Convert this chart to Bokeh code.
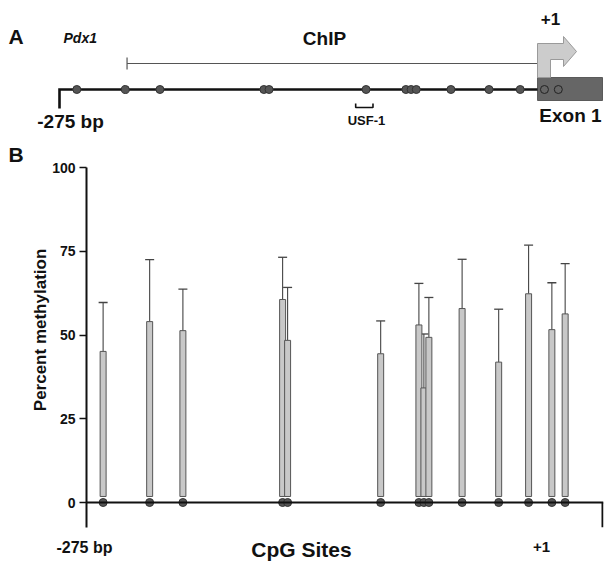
from bokeh.plotting import figure
from bokeh.models import (Range1d, Label, Span, Whisker, TeeHead, ColumnDataSource,
                          FixedTicker, LinearAxis, Title)
from bokeh.embed import file_html
from bokeh.resources import INLINE

# ---------------- data ----------------
cpg_bp = [-265, -237, -217, -157, -154, -98, -75, -72, -69, -49, -27, -9, 5, 13]
methylation = [45.1, 54.0, 51.3, 60.6, 48.4, 44.4, 53.0, 34.2, 49.3, 57.9, 41.9, 62.3, 51.6, 56.3]
sd = [14.6, 18.5, 12.4, 12.6, 15.8, 9.8, 12.4, 16.1, 11.9, 14.7, 15.8, 14.5, 14.0, 15.0]
y_ticks = [0, 25, 50, 75, 100]
chip_start_bp = -236
usf1_bp = [-104, -94]
tss_bp = 1

FONT = "Liberation Sans"
W = 605

# ---------------- panel A (schematic) ----------------
A_SCALE = 1.732          # px per bp in panel A
def a_bp(px):            # page px -> bp for panel A
    return -275 + (px - 59) / A_SCALE

A_H = 134
pa = figure(width=W, height=A_H, x_range=Range1d(a_bp(0), a_bp(W)),
            y_range=Range1d(A_H, 0), output_backend="svg", toolbar_location=None,
            min_border=0, x_axis_location=None, y_axis_location=None)
pa.grid.visible = False
pa.outline_line_color = None

# ChIP region
pa.segment(x0=[chip_start_bp], y0=[63], x1=[tss_bp], y1=[63], line_color="#555555", line_width=1)
pa.segment(x0=[chip_start_bp], y0=[57], x1=[chip_start_bp], y1=[69], line_color="#555555", line_width=1.2)

# exon box
pa.quad(left=[tss_bp], right=[a_bp(602)], top=[77], bottom=[100], fill_color="#666666", line_color="#5a5a5a")

# TSS arrow
arrow_px = [(537, 77), (537, 43), (563, 43), (563, 36), (576, 51), (563, 66), (563, 59), (550, 59), (550, 77)]
pa.patch(x=[a_bp(p[0]) for p in arrow_px], y=[p[1] for p in arrow_px],
         fill_color="#cccccc", line_color="#9a9a9a", line_width=1)

# promoter line
pa.line(x=[-275, -275, tss_bp], y=[108, 89, 89], line_color="#111111", line_width=2.6, line_join="miter")

# CpG sites
fills = ["#555555" if b < tss_bp else "#666666" for b in cpg_bp]
lines = ["#333333" if b < tss_bp else "#222222" for b in cpg_bp]
pa.scatter(x=cpg_bp, y=[89] * len(cpg_bp), size=8, fill_color=fills, line_color=lines, line_width=1)

# USF-1 bracket
pa.line(x=[usf1_bp[0], usf1_bp[0], usf1_bp[1], usf1_bp[1]], y=[103, 107, 107, 103],
        line_color="#111111", line_width=1.6)

def alabel(text, px, py, size, align="center", style="bold"):
    pa.add_layout(Label(x=a_bp(px), y=py, text=text, text_font=FONT, text_font_size=f"{size}px",
                        text_font_style=style, text_align=align, text_baseline="middle",
                        text_color="#111111"))

alabel("A", 8, 36, 21, align="left")
alabel("Pdx1", 63, 37, 14, align="left", style="bold italic")
alabel("ChIP", 324, 38, 19)
alabel("+1", 550, 18, 17)
alabel("-275 bp", 70, 121, 19)
alabel("USF-1", 366, 120, 13)
alabel("Exon 1", 570, 115, 19)

# ---------------- panel B (bar chart) ----------------
B_SCALE = 1.662          # px per bp
Y_SCALE = 3.35           # px per percent
def bx(px):
    return -275 + (px - 86) / B_SCALE
def by(py):
    return (502 - py) / Y_SCALE

B_TOP = A_H
B_FRAME_TOP = 165
B_BOTTOM = 537
x_end = bx(602)
pb = figure(width=W, height=B_BOTTOM - B_TOP, x_range=Range1d(-275, bx(603)),
            y_range=Range1d(by(527), by(B_FRAME_TOP)), output_backend="svg", toolbar_location=None,
            min_border_left=86, min_border_right=2, min_border_top=B_FRAME_TOP - B_TOP,
            min_border_bottom=B_BOTTOM - 527, x_axis_location=None)
pb.grid.visible = False
pb.outline_line_color = None
pb.title = Title(text="B", align="left", offset=-78, vertical_align="bottom", standoff=0,
                 text_font=FONT, text_font_size="21px", text_font_style="bold", text_color="#111111")

ya = pb.yaxis[0]
ya.ticker = FixedTicker(ticks=y_ticks)
ya.bounds = (by(527), 100)
ya.axis_line_width = 2
ya.axis_line_color = "#111111"
ya.major_tick_in = 0
ya.major_tick_out = 7
ya.major_tick_line_width = 1.5
ya.major_tick_line_color = "#111111"
ya.minor_tick_line_color = None
ya.major_label_text_font = FONT
ya.major_label_text_font_style = "bold"
ya.major_label_text_font_size = "14px"
ya.major_label_text_color = "#111111"
ya.major_label_standoff = 4

# axis title carried by a second (bare) left axis; leading no-break spaces lift it
# to where the original centres it
title_axis = LinearAxis(ticker=FixedTicker(ticks=[]),
                        axis_line_color=None, major_tick_line_color=None,
                        minor_tick_line_color=None, major_label_text_font_size="0px",
                        axis_label="\u00a0" * 7 + "Percent methylation", axis_label_text_font=FONT,
                        axis_label_text_font_style="bold", axis_label_text_font_size="17px",
                        axis_label_text_color="#111111", axis_label_standoff=0)
pb.add_layout(title_axis, "left")

src = ColumnDataSource(data=dict(
    x=cpg_bp, top=methylation,
    upper=[m + s for m, s in zip(methylation, sd)],
))

pb.vbar(x="x", width=3.6, bottom=1.8, top="top", source=src,
        fill_color="#c8c8c8", line_color="#555555", line_width=1)
pb.add_layout(Whisker(base="x", lower="top", upper="upper", source=src, dimension="height",
                      line_color="#444444", line_width=1.1,
                      upper_head=TeeHead(size=9, line_color="#444444", line_width=1.3),
                      lower_head=None))

# baseline (sequence line) and right end tick
pb.add_layout(Span(location=0, dimension="width", line_color="#111111", line_width=2))
pb.segment(x0=[x_end], y0=[0], x1=[x_end], y1=[by(527)], line_color="#111111", line_width=2)

pb.scatter(x=cpg_bp, y=[0] * len(cpg_bp), size=8, fill_color="#555555", line_color="#333333", line_width=1)

# ---------------- bottom labels strip ----------------
C_H = 565 - B_BOTTOM
pc = figure(width=W, height=C_H, x_range=Range1d(bx(0), bx(W)),
            y_range=Range1d(565, B_BOTTOM), output_backend="svg", toolbar_location=None,
            min_border=0, x_axis_location=None, y_axis_location=None)
pc.grid.visible = False
pc.outline_line_color = None

def clabel(text, px, py, size):
    pc.add_layout(Label(x=bx(px), y=py, text=text, text_font=FONT, text_font_size=f"{size}px",
                        text_font_style="bold", text_align="center", text_baseline="middle",
                        text_color="#111111"))

clabel("-275 bp", 84, 547, 16)
clabel("CpG Sites", 301, 549, 21)
clabel("+1", 541, 546, 15)

open("out.html", "w").write(file_html([pa, pb, pc], INLINE))
